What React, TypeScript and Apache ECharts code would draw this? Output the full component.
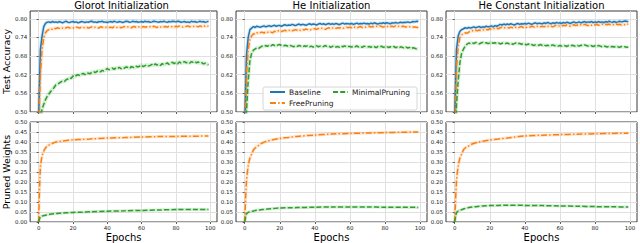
import React, { useEffect, useRef } from "react";
import * as echarts from "echarts";

const titles = ["Glorot Initialization", "He Initialization", "He Constant Initialization"];
const seriesNames = ["Baseline", "FreePruning", "MinimalPruning"];
const accTicks = [0.5, 0.56, 0.62, 0.68, 0.74, 0.8];
const epochTicks = [0, 20, 40, 60, 80, 100];

// Test accuracy per epoch (0..99)
const glorotBaseline = [
  0.48, 0.70, 0.745, 0.775, 0.785, 0.789, 0.790, 0.788, 0.791, 0.789,
  0.790, 0.788, 0.791, 0.789, 0.787, 0.790, 0.792, 0.789, 0.788, 0.790,
  0.791, 0.789, 0.790, 0.787, 0.789, 0.791, 0.790, 0.788, 0.790, 0.789,
  0.791, 0.792, 0.789, 0.790, 0.788, 0.791, 0.790, 0.792, 0.789, 0.790,
  0.788, 0.790, 0.791, 0.789, 0.792, 0.790, 0.789, 0.791, 0.790, 0.788,
  0.790, 0.792, 0.791, 0.789, 0.790, 0.792, 0.790, 0.791, 0.789, 0.790,
  0.791, 0.789, 0.792, 0.790, 0.791, 0.789, 0.790, 0.792, 0.791, 0.790,
  0.789, 0.791, 0.790, 0.792, 0.790, 0.789, 0.791, 0.790, 0.792, 0.791,
  0.790, 0.792, 0.791, 0.789, 0.790, 0.791, 0.789, 0.790, 0.788, 0.792,
  0.790, 0.791, 0.789, 0.790, 0.792, 0.790, 0.791, 0.789, 0.790, 0.792,
];
const glorotFree = [
  0.45, 0.62, 0.70, 0.74, 0.755, 0.762, 0.765, 0.768, 0.766, 0.770,
  0.768, 0.771, 0.769, 0.772, 0.770, 0.768, 0.771, 0.773, 0.770, 0.772,
  0.771, 0.769, 0.773, 0.772, 0.770, 0.774, 0.772, 0.771, 0.773, 0.770,
  0.772, 0.774, 0.771, 0.773, 0.772, 0.770, 0.774, 0.773, 0.771, 0.772,
  0.774, 0.772, 0.773, 0.771, 0.775, 0.773, 0.772, 0.774, 0.771, 0.773,
  0.775, 0.772, 0.774, 0.773, 0.771, 0.774, 0.775, 0.772, 0.774, 0.773,
  0.772, 0.775, 0.773, 0.774, 0.772, 0.775, 0.773, 0.776, 0.774, 0.772,
  0.775, 0.773, 0.776, 0.774, 0.775, 0.773, 0.776, 0.774, 0.775, 0.773,
  0.776, 0.774, 0.777, 0.775, 0.773, 0.776, 0.775, 0.777, 0.774, 0.776,
  0.775, 0.777, 0.776, 0.774, 0.777, 0.775, 0.778, 0.776, 0.777, 0.776,
];
const glorotMinimal = [
  0.40, 0.48, 0.51, 0.525, 0.54, 0.55, 0.558, 0.566, 0.572, 0.579,
  0.587, 0.590, 0.593, 0.597, 0.600, 0.598, 0.604, 0.606, 0.610, 0.608,
  0.616, 0.613, 0.618, 0.620, 0.617, 0.622, 0.624, 0.620, 0.626, 0.625,
  0.623, 0.628, 0.630, 0.627, 0.631, 0.633, 0.629, 0.634, 0.632, 0.636,
  0.640, 0.636, 0.638, 0.641, 0.637, 0.642, 0.640, 0.644, 0.639, 0.643,
  0.641, 0.645, 0.643, 0.640, 0.646, 0.644, 0.642, 0.647, 0.645, 0.648,
  0.651, 0.646, 0.649, 0.652, 0.648, 0.650, 0.653, 0.649, 0.655, 0.651,
  0.654, 0.650, 0.656, 0.652, 0.655, 0.658, 0.653, 0.657, 0.660, 0.656,
  0.659, 0.655, 0.661, 0.657, 0.660, 0.662, 0.658, 0.661, 0.657, 0.662,
  0.660, 0.663, 0.658, 0.661, 0.657, 0.659, 0.655, 0.657, 0.654, 0.652,
];
const heBaseline = [
  0.45, 0.68, 0.74, 0.765, 0.770, 0.775, 0.772, 0.776, 0.774, 0.773,
  0.775, 0.777, 0.774, 0.776, 0.778, 0.775, 0.777, 0.779, 0.776, 0.778,
  0.778, 0.776, 0.779, 0.781, 0.778, 0.780, 0.779, 0.782, 0.780, 0.778,
  0.781, 0.783, 0.780, 0.782, 0.781, 0.779, 0.782, 0.784, 0.781, 0.783,
  0.782, 0.780, 0.783, 0.785, 0.782, 0.784, 0.781, 0.783, 0.785, 0.782,
  0.784, 0.782, 0.785, 0.783, 0.781, 0.784, 0.786, 0.783, 0.785, 0.784,
  0.783, 0.785, 0.782, 0.784, 0.786, 0.783, 0.785, 0.784, 0.786, 0.784,
  0.785, 0.783, 0.786, 0.784, 0.787, 0.785, 0.783, 0.786, 0.785, 0.787,
  0.785, 0.787, 0.786, 0.784, 0.787, 0.786, 0.788, 0.786, 0.787, 0.789,
  0.787, 0.789, 0.788, 0.790, 0.788, 0.789, 0.791, 0.790, 0.792, 0.791,
];
const heFree = [
  0.40, 0.62, 0.70, 0.735, 0.745, 0.752, 0.750, 0.755, 0.753, 0.756,
  0.757, 0.754, 0.758, 0.756, 0.759, 0.757, 0.755, 0.760, 0.758, 0.761,
  0.762, 0.759, 0.761, 0.763, 0.760, 0.762, 0.764, 0.761, 0.763, 0.765,
  0.763, 0.765, 0.762, 0.766, 0.764, 0.767, 0.765, 0.763, 0.766, 0.768,
  0.768, 0.766, 0.769, 0.767, 0.770, 0.768, 0.766, 0.769, 0.771, 0.768,
  0.770, 0.772, 0.769, 0.771, 0.770, 0.772, 0.769, 0.771, 0.773, 0.771,
  0.773, 0.771, 0.774, 0.772, 0.770, 0.773, 0.775, 0.772, 0.774, 0.773,
  0.774, 0.776, 0.773, 0.775, 0.774, 0.776, 0.774, 0.777, 0.775, 0.773,
  0.776, 0.774, 0.777, 0.775, 0.776, 0.774, 0.777, 0.775, 0.776, 0.774,
  0.776, 0.775, 0.773, 0.776, 0.774, 0.775, 0.773, 0.774, 0.772, 0.773,
];
const heMinimal = [
  0.35, 0.50, 0.60, 0.665, 0.690, 0.699, 0.703, 0.707, 0.705, 0.709,
  0.712, 0.710, 0.714, 0.711, 0.716, 0.713, 0.717, 0.714, 0.712, 0.716,
  0.717, 0.714, 0.712, 0.715, 0.713, 0.711, 0.714, 0.712, 0.710, 0.713,
  0.711, 0.714, 0.712, 0.709, 0.713, 0.711, 0.714, 0.710, 0.712, 0.709,
  0.711, 0.713, 0.710, 0.712, 0.709, 0.711, 0.714, 0.710, 0.712, 0.708,
  0.711, 0.713, 0.709, 0.711, 0.708, 0.712, 0.710, 0.713, 0.709, 0.711,
  0.711, 0.709, 0.712, 0.710, 0.713, 0.709, 0.711, 0.708, 0.712, 0.710,
  0.709, 0.711, 0.708, 0.712, 0.710, 0.707, 0.711, 0.709, 0.712, 0.708,
  0.709, 0.711, 0.707, 0.710, 0.708, 0.711, 0.707, 0.709, 0.706, 0.710,
  0.708, 0.705, 0.709, 0.706, 0.708, 0.704, 0.707, 0.705, 0.703, 0.704,
];
const heConstBaseline = [
  0.48, 0.70, 0.745, 0.760, 0.765, 0.768, 0.771, 0.769, 0.772, 0.770,
  0.772, 0.774, 0.771, 0.773, 0.775, 0.772, 0.774, 0.773, 0.776, 0.774,
  0.775, 0.777, 0.774, 0.778, 0.776, 0.779, 0.782, 0.780, 0.783, 0.781,
  0.783, 0.781, 0.784, 0.782, 0.780, 0.783, 0.785, 0.782, 0.784, 0.783,
  0.785, 0.783, 0.786, 0.784, 0.782, 0.785, 0.787, 0.784, 0.786, 0.785,
  0.784, 0.787, 0.785, 0.788, 0.786, 0.784, 0.787, 0.785, 0.788, 0.786,
  0.787, 0.785, 0.788, 0.786, 0.789, 0.787, 0.785, 0.788, 0.790, 0.787,
  0.788, 0.790, 0.787, 0.789, 0.791, 0.788, 0.790, 0.789, 0.791, 0.788,
  0.790, 0.788, 0.791, 0.789, 0.790, 0.788, 0.791, 0.789, 0.792, 0.790,
  0.789, 0.791, 0.789, 0.790, 0.792, 0.790, 0.791, 0.793, 0.792, 0.790,
];
const heConstFree = [
  0.42, 0.64, 0.71, 0.740, 0.748, 0.752, 0.755, 0.753, 0.757, 0.760,
  0.762, 0.760, 0.763, 0.761, 0.764, 0.762, 0.765, 0.763, 0.766, 0.764,
  0.768, 0.766, 0.769, 0.767, 0.770, 0.768, 0.771, 0.773, 0.770, 0.772,
  0.772, 0.770, 0.773, 0.771, 0.774, 0.772, 0.770, 0.773, 0.775, 0.772,
  0.774, 0.772, 0.775, 0.773, 0.776, 0.774, 0.772, 0.775, 0.777, 0.774,
  0.776, 0.774, 0.777, 0.775, 0.778, 0.776, 0.774, 0.777, 0.779, 0.776,
  0.778, 0.776, 0.779, 0.777, 0.780, 0.778, 0.776, 0.779, 0.781, 0.778,
  0.780, 0.778, 0.781, 0.779, 0.782, 0.780, 0.778, 0.781, 0.779, 0.782,
  0.780, 0.782, 0.779, 0.781, 0.783, 0.780, 0.782, 0.781, 0.783, 0.780,
  0.782, 0.780, 0.783, 0.781, 0.782, 0.780, 0.782, 0.781, 0.783, 0.782,
];
const heConstMinimal = [
  0.35, 0.52, 0.60, 0.660, 0.690, 0.702, 0.712, 0.718, 0.722, 0.720,
  0.723, 0.720, 0.724, 0.721, 0.719, 0.722, 0.724, 0.721, 0.723, 0.720,
  0.722, 0.724, 0.721, 0.723, 0.720, 0.722, 0.719, 0.721, 0.723, 0.720,
  0.722, 0.719, 0.721, 0.718, 0.720, 0.722, 0.719, 0.721, 0.718, 0.720,
  0.718, 0.716, 0.719, 0.715, 0.717, 0.714, 0.716, 0.713, 0.715, 0.717,
  0.714, 0.716, 0.713, 0.715, 0.712, 0.714, 0.716, 0.713, 0.715, 0.712,
  0.714, 0.712, 0.715, 0.713, 0.711, 0.714, 0.712, 0.715, 0.713, 0.711,
  0.714, 0.712, 0.715, 0.713, 0.716, 0.714, 0.712, 0.715, 0.713, 0.711,
  0.713, 0.711, 0.714, 0.712, 0.710, 0.713, 0.711, 0.709, 0.712, 0.710,
  0.711, 0.709, 0.712, 0.710, 0.708, 0.711, 0.709, 0.710, 0.708, 0.709,
];

// Pruned weights (sampled epochs)
const pruneEpochs = [0, 1, 2, 3, 4, 5, 6, 8, 10, 13, 16, 20, 25, 30, 40, 50, 60, 70, 80, 90, 99];
const glorotFreePruned = [0, 0.27, 0.33, 0.355, 0.37, 0.38, 0.385, 0.393, 0.4, 0.404, 0.407, 0.411, 0.413, 0.415, 0.42, 0.422, 0.425, 0.427, 0.428, 0.429, 0.43];
const glorotMinimalPruned = [0, 0.025, 0.03, 0.032, 0.034, 0.036, 0.038, 0.04, 0.042, 0.044, 0.046, 0.048, 0.049, 0.051, 0.054, 0.056, 0.058, 0.06, 0.062, 0.062, 0.063];
const heFreePruned = [0, 0.2, 0.28, 0.32, 0.34, 0.36, 0.37, 0.383, 0.395, 0.405, 0.411, 0.418, 0.423, 0.428, 0.435, 0.44, 0.443, 0.445, 0.447, 0.449, 0.45];
const heMinimalPruned = [0, 0.04, 0.048, 0.051, 0.053, 0.055, 0.057, 0.06, 0.062, 0.065, 0.067, 0.07, 0.071, 0.072, 0.074, 0.075, 0.075, 0.075, 0.074, 0.074, 0.073];
const heConstFreePruned = [0, 0.2, 0.28, 0.32, 0.34, 0.36, 0.37, 0.38, 0.39, 0.398, 0.404, 0.41, 0.415, 0.42, 0.43, 0.434, 0.437, 0.439, 0.441, 0.443, 0.444];
const heConstMinimalPruned = [0, 0.045, 0.055, 0.058, 0.062, 0.065, 0.068, 0.072, 0.075, 0.078, 0.08, 0.082, 0.083, 0.084, 0.083, 0.082, 0.08, 0.079, 0.077, 0.076, 0.075];

const accData = [
  [glorotBaseline, glorotFree, glorotMinimal],
  [heBaseline, heFree, heMinimal],
  [heConstBaseline, heConstFree, heConstMinimal],
];
const prunedData = [
  [glorotFreePruned, glorotMinimalPruned],
  [heFreePruned, heMinimalPruned],
  [heConstFreePruned, heConstMinimalPruned],
];

const COLORS = ["#1f77b4", "#ff7f0e", "#2ca02c"];
const DASHES: any[] = ["solid", [6, 2.2, 1.4, 2.2], [5, 2.2]];
const FONT = "DejaVu Sans";
const FRAME = "#3a3a3a";
const GRIDLINE = "#e0e0e0";

const panelLeft = [26, 236, 446];
const panelWidth = 191;
const topRow = { top: 11, height: 101 };
const bottomRow = { top: 122, height: 101 };

export default function App() {
  const ref = useRef<HTMLDivElement>(null);
  useEffect(() => {
    if (!ref.current) return;
    const chart = echarts.init(ref.current, undefined, { renderer: "svg" });

    const grid: any[] = [];
    const xAxis: any[] = [];
    const yAxis: any[] = [];
    const series: any[] = [];

    const xAxisBase = (gridIndex: number, labels: boolean) => ({
      type: "value",
      gridIndex,
      min: -4.95,
      max: 103.95,
      axisLine: { show: false },
      axisTick: { show: true, length: 2, customValues: epochTicks, lineStyle: { color: FRAME, width: 0.8 } },
      axisLabel: {
        show: labels,
        customValues: epochTicks,
        fontSize: 5.5,
        fontFamily: FONT,
        color: "#222",
        margin: 3,
      },
      splitLine: { show: true, lineStyle: { color: GRIDLINE, width: 1 } },
      ...(labels
        ? {
            name: "Epochs",
            nameLocation: "middle",
            nameGap: 10,
            nameTextStyle: { fontSize: 10, fontFamily: FONT, color: "#000" },
          }
        : {}),
    });

    for (let row = 0; row < 2; row++) {
      const r = row === 0 ? topRow : bottomRow;
      for (let p = 0; p < 3; p++) {
        grid.push({
          left: panelLeft[p],
          width: panelWidth,
          top: r.top,
          height: r.height,
          show: true,
          borderColor: FRAME,
          borderWidth: 1,
          backgroundColor: "transparent",
        });
      }
    }

    for (let p = 0; p < 3; p++) {
      xAxis.push(xAxisBase(p, false));
      yAxis.push({
        type: "value",
        gridIndex: p,
        min: 0.5,
        max: 0.825,
        axisLine: { show: false },
        axisTick: { show: true, length: 2, customValues: accTicks, lineStyle: { color: FRAME, width: 0.8 } },
        axisLabel: {
          customValues: accTicks,
          fontSize: 5.5,
          fontFamily: FONT,
          color: "#222",
          margin: 3,
          formatter: (v: number) => v.toFixed(2),
        },
        splitLine: { show: true, lineStyle: { color: GRIDLINE, width: 1 } },
        ...(p === 0
          ? {
              name: "Test Accuracy",
              nameLocation: "middle",
              nameGap: 15,
              nameTextStyle: { fontSize: 9.5, fontFamily: FONT, color: "#000" },
            }
          : {}),
      });
    }
    for (let p = 0; p < 3; p++) {
      xAxis.push(xAxisBase(3 + p, true));
      yAxis.push({
        type: "value",
        gridIndex: 3 + p,
        min: 0,
        max: 0.5,
        interval: 0.05,
        axisLine: { show: false },
        axisTick: { show: true, length: 2, lineStyle: { color: FRAME, width: 0.8 } },
        axisLabel: {
          fontSize: 5.5,
          fontFamily: FONT,
          color: "#222",
          margin: 3,
          formatter: (v: number) => v.toFixed(2),
        },
        splitLine: { show: true, lineStyle: { color: GRIDLINE, width: 1 } },
        ...(p === 0
          ? {
              name: "Pruned Weights",
              nameLocation: "middle",
              nameGap: 15,
              nameTextStyle: { fontSize: 9.5, fontFamily: FONT, color: "#000" },
            }
          : {}),
      });
    }

    // accuracy series
    for (let p = 0; p < 3; p++) {
      for (let s = 0; s < 3; s++) {
        const data = accData[p][s].map((v, i) => [i, v]);
        series.push({
          type: "line",
          name: seriesNames[s] + " band",
          xAxisIndex: p,
          yAxisIndex: p,
          data,
          symbol: "none",
          silent: true,
          z: 1,
          lineStyle: { color: COLORS[s], width: s === 2 && p === 0 ? 4 : 3.5, opacity: 0.17 },
          itemStyle: { color: COLORS[s] },
        });
      }
      for (let s = 0; s < 3; s++) {
        const data = accData[p][s].map((v, i) => [i, v]);
        series.push({
          type: "line",
          name: seriesNames[s],
          xAxisIndex: p,
          yAxisIndex: p,
          data,
          symbol: "none",
          z: 3,
          lineStyle: { color: COLORS[s], width: 1.5, type: DASHES[s] },
          itemStyle: { color: COLORS[s] },
        });
      }
    }
    // pruned series
    for (let p = 0; p < 3; p++) {
      for (let k = 0; k < 2; k++) {
        const s = k + 1;
        const data = prunedData[p][k].map((v, i) => [pruneEpochs[i], v]);
        series.push({
          type: "line",
          name: seriesNames[s] + " band",
          xAxisIndex: 3 + p,
          yAxisIndex: 3 + p,
          data,
          symbol: "none",
          smooth: 0.3,
          silent: true,
          z: 1,
          lineStyle: { color: COLORS[s], width: 3, opacity: 0.2 },
          itemStyle: { color: COLORS[s] },
        });
        series.push({
          type: "line",
          name: seriesNames[s],
          xAxisIndex: 3 + p,
          yAxisIndex: 3 + p,
          data,
          symbol: "none",
          smooth: 0.3,
          z: 3,
          lineStyle: { color: COLORS[s], width: 1.5, type: DASHES[s] },
          itemStyle: { color: COLORS[s] },
        });
      }
    }

    const graphic: any[] = titles.map((t, p) => ({
      type: "text",
      x: panelLeft[p] + panelWidth / 2,
      y: 0,
      style: {
        text: t,
        font: `10px "${FONT}"`,
        fill: "#000",
        align: "center",
        verticalAlign: "top",
        textAlign: "center",
        textVerticalAlign: "top",
      },
    }));
    graphic.push({
      type: "rect",
      z: 5,
      shape: { x: 263, y: 87, width: 154, height: 23, r: 2 },
      style: { fill: "rgba(255,255,255,0.85)", stroke: "#cccccc", lineWidth: 0.8 },
    });

    const legendCommon = {
      orient: "vertical",
      itemWidth: 15,
      itemHeight: 8,
      itemGap: 3,
      padding: 0,
      z: 6,
      selectedMode: false,
      itemStyle: { color: "transparent", borderColor: "transparent", borderWidth: 0, opacity: 0 },
      textStyle: { fontSize: 7.5, fontFamily: FONT, color: "#222", padding: [0, 0, 0, -1] },
    };

    chart.setOption({
      animation: false,
      backgroundColor: "#ffffff",
      grid,
      xAxis,
      yAxis,
      series,
      graphic,
      legend: [
        { ...legendCommon, data: ["Baseline", "FreePruning"], left: 269, top: 88 },
        { ...legendCommon, data: ["MinimalPruning"], left: 332, top: 88 },
      ],
    });
    return () => chart.dispose();
  }, []);
  return (
    <div
      ref={ref}
      style={{ position: "absolute", left: 0, top: 0, width: 640, height: 243 }}
    />
  );
}
